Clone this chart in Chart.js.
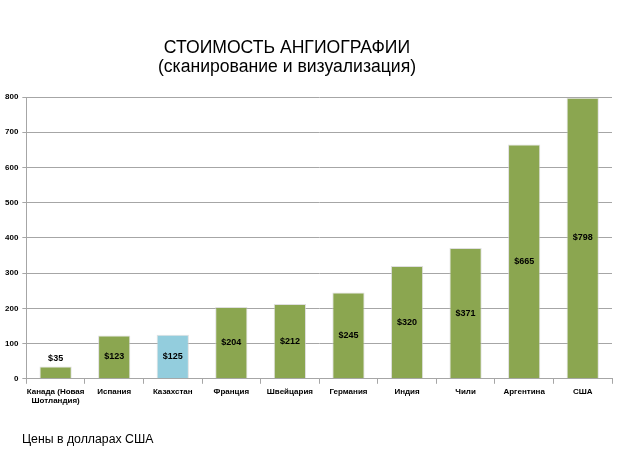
<!DOCTYPE html>
<html><head><meta charset="utf-8">
<script src="https://cdn.jsdelivr.net/npm/chart.js@4/dist/chart.umd.min.js"></script>
<style>html,body{margin:0;padding:0;background:#fff}#wrap{width:622px;height:458px;position:relative}</style>
</head><body><div id="wrap"><canvas id="c" width="622" height="458"></canvas></div>
<script>
const titleLines = ["СТОИМОСТЬ АНГИОГРАФИИ", "(сканирование и визуализация)"];
const footnote = "Цены в долларах США";
const categories = [["Канада (Новая","Шотландия)"], "Испания", "Казахстан", "Франция", "Швейцария", "Германия", "Индия", "Чили", "Аргентина", "США"];
const prices = [35, 123, 125, 204, 212, 245, 320, 371, 665, 798];
const highlight = "Казахстан";
const yTicks = [0, 100, 200, 300, 400, 500, 600, 700, 800];

const GREEN = "#8BA650", BLUE = "#93CDDD";
const barColors = categories.map(c => c === highlight ? BLUE : GREEN);

const overlay = {
  id: "overlay",
  afterDatasetsDraw(chart) {
    const ctx = chart.ctx;
    const meta = chart.getDatasetMeta(0);
    ctx.save();
    ctx.fillStyle = "#000";
    ctx.font = "bold 9px 'Liberation Sans Narrow','Liberation Sans',Arial";
    ctx.textAlign = "center";
    ctx.textBaseline = "middle";
    meta.data.forEach((bar, i) => {
      const v = prices[i];
      const base = bar.base;
      let y;
      if (base - bar.y < 20) y = bar.y - 8;
      else y = (bar.y + base) / 2;
      ctx.fillText("$" + v, bar.x, y);
    });
    ctx.restore();
  },
  afterDraw(chart) {
    const ctx = chart.ctx;
    ctx.save();
    ctx.fillStyle = "#000";
    ctx.textAlign = "center";
    ctx.textBaseline = "alphabetic";
    ctx.font = "17.6px 'Liberation Sans', Arial";
    ctx.fillText(titleLines[0], 287, 53);
    ctx.fillText(titleLines[1], 287, 72);
    ctx.textAlign = "left";
    ctx.font = "12.3px 'Liberation Sans', Arial";
    ctx.fillText(footnote, 22, 443);
    ctx.restore();
  }
};

new Chart(document.getElementById("c"), {
  type: "bar",
  data: {
    labels: categories,
    datasets: [{
      data: prices,
      backgroundColor: barColors,
      borderColor: "rgba(210,210,210,0.7)",
      borderWidth: 1,
      categoryPercentage: 1,
      barPercentage: 0.55
    }]
  },
  options: {
    responsive: false,
    animation: false,
    devicePixelRatio: 1,
    layout: { padding: { top: 97, right: 10, bottom: 49, left: 1 } },
    plugins: { legend: { display: false }, tooltip: { enabled: false }, title: { display: false } },
    scales: {
      x: {
        offset: true,
        grid: { offset: true, drawOnChartArea: false, color: "#a6a6a6", tickLength: 5 },
        border: { color: "#a6a6a6" },
        ticks: { color: "#000", font: { family: "'Liberation Sans Narrow','Liberation Sans',Arial", size: 8, weight: "bold" }, maxRotation: 0, autoSkip: false, padding: 3 }
      },
      y: {
        min: 0, max: 800,
        afterBuildTicks(axis) { axis.ticks = yTicks.map(v => ({ value: v })); },
        grid: { color: "#a6a6a6", tickLength: 4 },
        border: { color: "#a6a6a6" },
        ticks: { color: "#000", font: { family: "'Liberation Sans',Arial", size: 8, weight: "bold" }, padding: 4 }
      }
    }
  },
  plugins: [overlay]
});
</script></body></html>
